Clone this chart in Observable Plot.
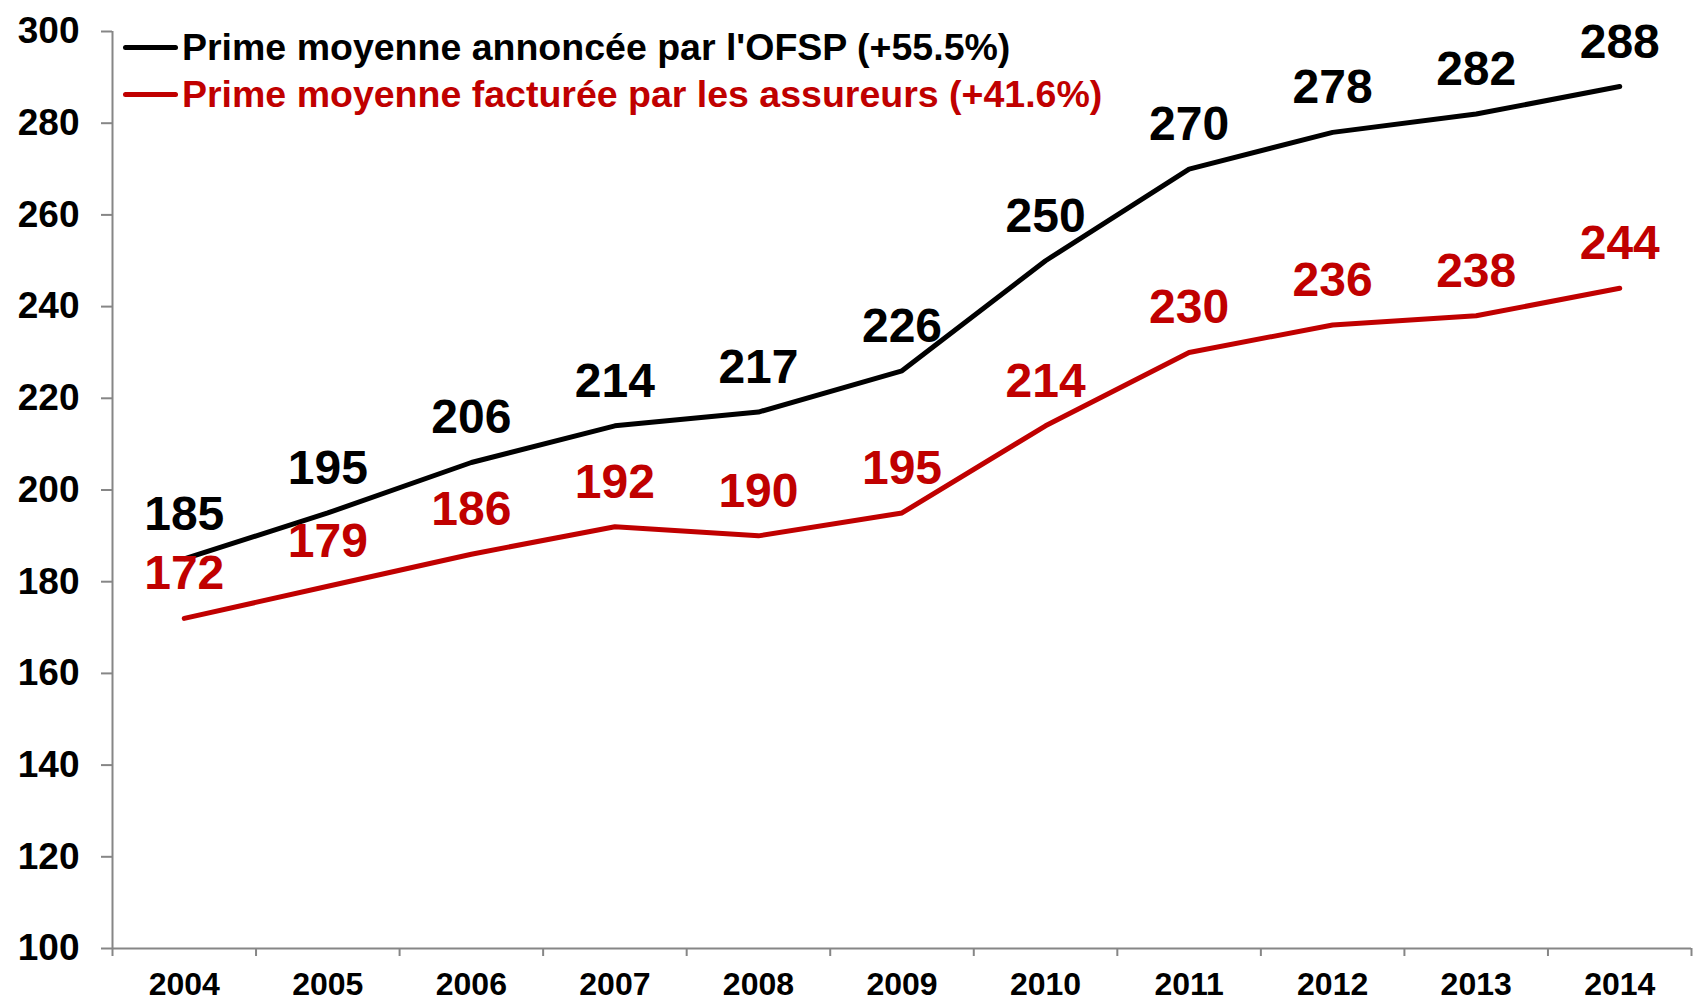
<!DOCTYPE html>
<html>
<head>
<meta charset="utf-8">
<script src="https://cdn.jsdelivr.net/npm/d3@7"></script>
<script src="https://cdn.jsdelivr.net/npm/@observablehq/plot@0.6"></script>
<style>
  body { margin: 0; background: #fff; font-family: "Liberation Sans", Arial, sans-serif; }
  #wrap { position: relative; width: 1693px; height: 1000px; }
  #legend { position: absolute; left: 123px; top: 24px; font-size: 37.5px; font-weight: bold; }
  .row { display: flex; align-items: center; height: 47px; line-height: 47px; white-space: nowrap; }
  .sw { width: 55px; height: 5px; border-radius: 2.5px; margin-right: 4px; }
</style>
</head>
<body>
<div id="wrap"><div id="chart"></div><div id="legend"></div></div>
<script>
const years = [2004, 2005, 2006, 2007, 2008, 2009, 2010, 2011, 2012, 2013, 2014];
const ofsp = [185, 195, 206, 214, 217, 226, 250, 270, 278, 282, 288];
const assureurs = [172, 179, 186, 192, 190, 195, 214, 230, 236, 238, 244];
const seriesNames = [
  "Prime moyenne annoncée par l'OFSP (+55.5%)",
  "Prime moyenne facturée par les assureurs (+41.6%)"
];
const seriesColors = ["#000000", "#C00000"];
const yTicks = [100, 120, 140, 160, 180, 200, 220, 240, 260, 280, 300];

const rows = years.flatMap((yr, i) => [
  {year: yr, value: ofsp[i], series: seriesNames[0]},
  {year: yr, value: assureurs[i], series: seriesNames[1]}
]);
const boundaries = [...years.map(y => y - 0.5), years[years.length - 1] + 0.5];
const axisGray = "#868686";
const font = "'Liberation Sans', Arial, sans-serif";

const chart = Plot.plot({
  width: 1693,
  height: 1000,
  marginLeft: 112,
  marginRight: 2,
  marginTop: 31,
  marginBottom: 52,
  style: {fontFamily: font, background: "white", overflow: "visible"},
  x: {domain: [boundaries[0], boundaries[boundaries.length - 1]]},
  y: {domain: [yTicks[0], yTicks[yTicks.length - 1]]},
  color: {domain: seriesNames, range: seriesColors},
  marks: [
    Plot.axisY({ticks: yTicks, tickSize: 11, tickFormat: () => "", stroke: axisGray, strokeWidth: 2, label: null}),
    Plot.axisY({ticks: yTicks, tickSize: 0, tickPadding: 33, tickFormat: d => String(d), fontSize: 37, fontWeight: "bold", fill: "#000", label: null}),
    Plot.axisX({ticks: boundaries, tickSize: 8, tickFormat: () => "", stroke: axisGray, strokeWidth: 2, label: null}),
    Plot.axisX({ticks: years, tickSize: 0, tickPadding: 24, tickFormat: d => String(d), fontSize: 32, fontWeight: "bold", fill: "#000", label: null}),
    Plot.ruleX([boundaries[0]], {stroke: axisGray, strokeWidth: 2}),
    Plot.ruleY([yTicks[0]], {stroke: axisGray, strokeWidth: 2}),
    Plot.line(rows, {x: "year", y: "value", z: "series", stroke: "series", strokeWidth: 5, strokeLinecap: "round", strokeLinejoin: "round"}),
    Plot.text(rows, {x: "year", y: "value", text: d => String(d.value), fill: "series", fontSize: 48, fontWeight: "bold", lineAnchor: "bottom", dy: -29})
  ]
});
document.getElementById("chart").appendChild(chart);

const legend = document.getElementById("legend");
seriesNames.forEach((name, i) => {
  const row = document.createElement("div");
  row.className = "row";
  row.style.color = seriesColors[i];
  const sw = document.createElement("span");
  sw.className = "sw";
  sw.style.background = seriesColors[i];
  const label = document.createElement("span");
  label.textContent = name;
  row.appendChild(sw);
  row.appendChild(label);
  legend.appendChild(row);
});
</script>
</body>
</html>
